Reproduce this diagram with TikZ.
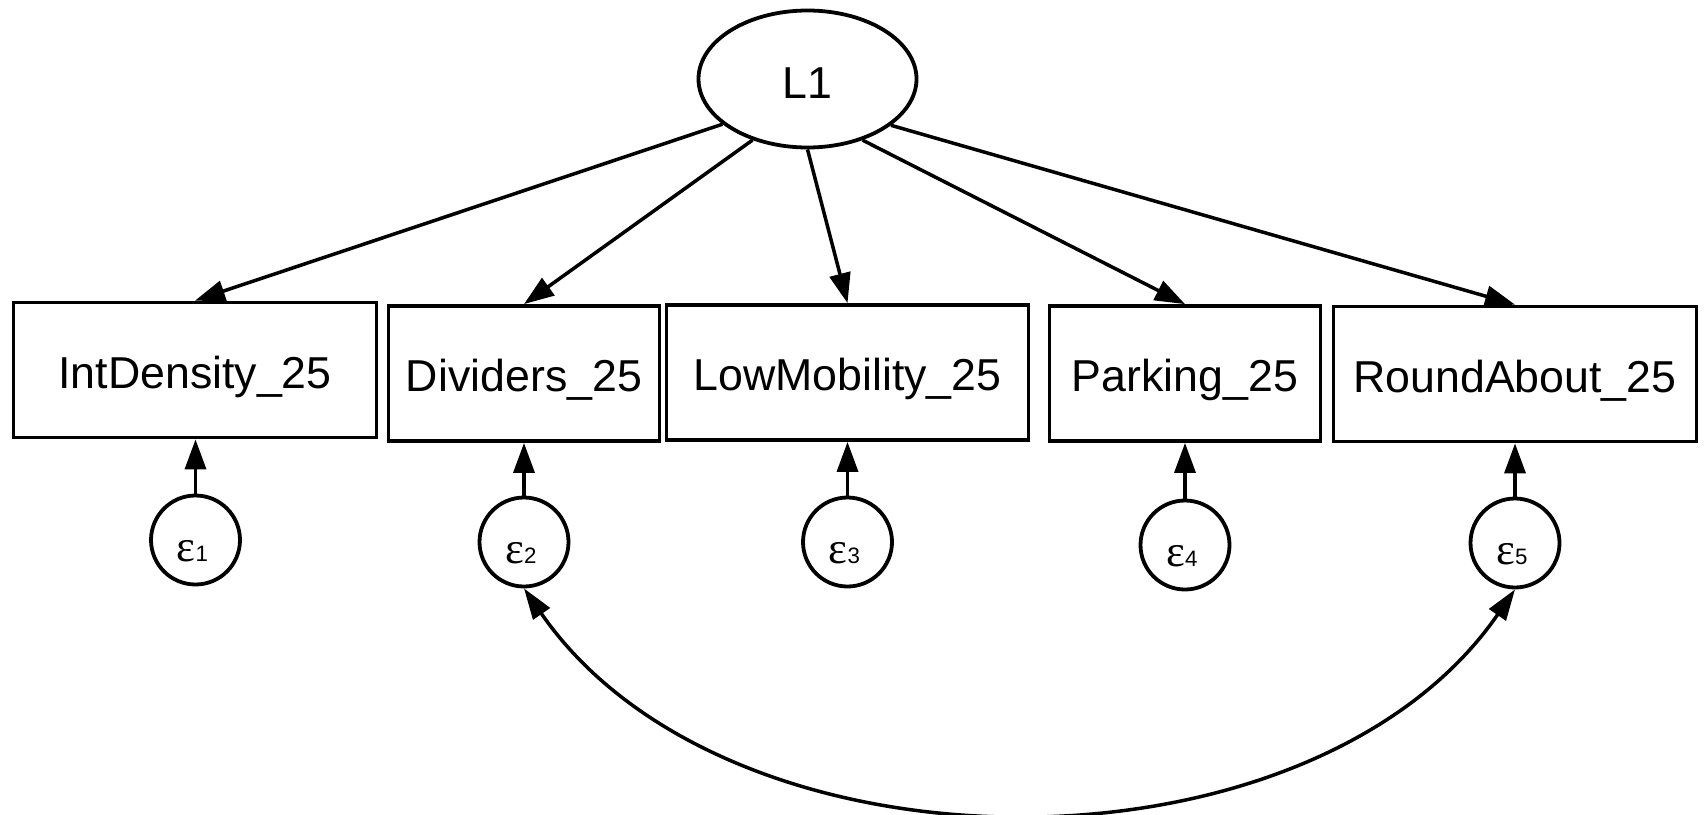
\documentclass[tikz,border=0pt]{standalone}
\usepackage{fontspec}
\setmainfont{Liberation Sans}
\newfontfamily\epsfont{Liberation Serif}
\usetikzlibrary{arrows.meta,shapes.geometric}
\newcommand\myeps[1]{{\epsfont\fontsize{44.7}{50}\selectfont ε}{\fontsize{22.3}{24}\selectfont #1}}
\begin{document}
\begin{tikzpicture}[x=1pt,y=-1pt,
  bordw/.style={line width=3.8pt},
  bigtext/.style={font=\fontsize{44.7}{50}\selectfont},
  obsbox/.style={draw, bordw, rectangle, inner sep=0pt, minimum height=135pt, text height=36pt, text depth=0pt, bigtext},
  latent/.style={draw, bordw, ellipse, inner sep=0pt, minimum width=218pt, minimum height=137pt, text height=38pt, text depth=0pt, bigtext},
  errc/.style={draw, bordw, circle, inner sep=0pt, minimum size=89pt},
  epslab/.style={inner sep=0pt, anchor=base},
  conn/.style={line width=3.5pt, -{Triangle[length=30pt,width=21pt]}},
  bconn/.style={line width=3.5pt, {Triangle[length=31pt,width=20pt]}-{Triangle[length=31pt,width=20pt]}}
]
\useasboundingbox (0,0) rectangle (1704,814);

\node[latent] (L1) at (807.5,79) {L1};

\node[obsbox, minimum width=363pt] (b1) at (195,370) {IntDensity\_25};
\node[obsbox, minimum width=271pt] (b2) at (524,373.5) {Dividers\_25};
\node[obsbox, minimum width=362pt] (b3) at (847.5,372.5) {LowMobility\_25};
\node[obsbox, minimum width=271pt] (b4) at (1185,373.5) {Parking\_25};
\node[obsbox, minimum width=363pt] (b5) at (1515,374) {RoundAbout\_25};

\node[errc] (e1) at (195.5,540) {};
\node[errc] (e2) at (524,542) {};
\node[errc] (e3) at (847.5,542) {};
\node[errc] (e4) at (1185,545) {};
\node[errc] (e5) at (1515,543) {};

\node[epslab] (t1) at ([xshift=-3pt,yshift=-21pt]e1.center) {\myeps{1}};
\node[epslab] (t2) at ([xshift=-3pt,yshift=-21pt]e2.center) {\myeps{2}};
\node[epslab] (t3) at ([xshift=-3pt,yshift=-21pt]e3.center) {\myeps{3}};
\node[epslab] (t4) at ([xshift=-3pt,yshift=-21pt]e4.center) {\myeps{4}};
\node[epslab] (t5) at ([xshift=-3pt,yshift=-21pt]e5.center) {\myeps{5}};

\draw[conn] (L1.-152) -- (b1.north);
\draw[conn] (L1.-132) -- (b2.north);
\draw[conn] (L1.-90) -- (b3.north);
\draw[conn] (L1.-48) -- (b4.north);
\draw[conn] (L1.-29) -- (b5.north);

\draw[conn] (e1.north) -- (e1.north |- b1.south);
\draw[conn] (e2.north) -- (e2.north |- b2.south);
\draw[conn] (e3.north) -- (e3.north |- b3.south);
\draw[conn] (e4.north) -- (e4.north |- b4.south);
\draw[conn] (e5.north) -- (e5.north |- b5.south);

\draw[bconn] (e2.south) .. controls (729,885) and (1311,885) .. (e5.south);
\end{tikzpicture}
\end{document}
